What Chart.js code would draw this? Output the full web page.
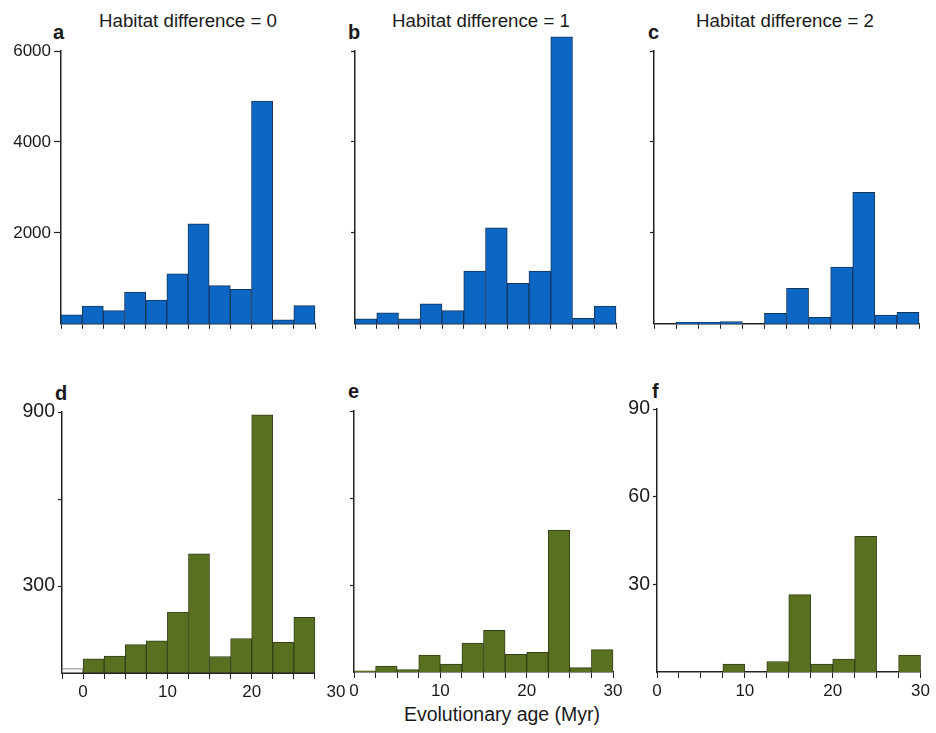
<!DOCTYPE html>
<html lang="en">
<head>
<meta charset="UTF-8">
<title>Evolutionary age by habitat difference</title>
<script src="https://cdn.jsdelivr.net/npm/chart.js"></script>
<style>
  html, body { margin: 0; padding: 0; background: #fff; overflow: hidden; }
  #figure {
    position: relative;
    width: 936px;
    height: 733px;
    font-family: 'Liberation Sans', Arial, sans-serif;
    color: #1a1a1a;
  }
  #figure canvas { position: absolute; }
  .label { position: absolute; white-space: nowrap; font-size: 18.7px; line-height: 18px; }
  .centered { transform: translateX(-50%); }
  .letter { font-weight: bold; font-size: 20px; line-height: 20px; }
  .axis-title { font-size: 19.5px; }
</style>
</head>
<body>
<div id="figure">
  <div class="label centered" style="left:188px; top:12px;">Habitat difference = 0</div>
  <div class="label centered" style="left:481px; top:12px;">Habitat difference = 1</div>
  <div class="label centered" style="left:785px; top:12px;">Habitat difference = 2</div>
  <div class="label letter" style="left:53px; top:22px;">a</div>
  <div class="label letter" style="left:348px; top:22px;">b</div>
  <div class="label letter" style="left:648px; top:22px;">c</div>
  <div class="label letter" style="left:55px; top:383px;">d</div>
  <div class="label letter" style="left:348px; top:381px;">e</div>
  <div class="label letter" style="left:652px; top:381px;">f</div>
  <div class="label centered axis-title" style="left:502px; top:705px;">Evolutionary age (Myr)</div>
</div>

<script>
// Bin starts (Myr); every bin is 2.5 Myr wide
const binWidth = 2.5;
const binStartsLeft = [-2.5, 0, 2.5, 5, 7.5, 10, 12.5, 15, 17.5, 20, 22.5, 25];
const binStarts = [0, 2.5, 5, 7.5, 10, 12.5, 15, 17.5, 20, 22.5, 25, 27.5];

// Counts per bin
const countsA = [200, 390, 290, 700, 520, 1100, 2200, 840, 760, 4900, 90, 400];
const countsB = [110, 240, 110, 440, 290, 1160, 2110, 890, 1160, 6310, 120, 390];
const countsC = [0, 30, 30, 50, 0, 230, 780, 140, 1250, 2890, 190, 250];
const countsD = [15, 49, 58, 98, 111, 210, 411, 57, 119, 890, 106, 192];
const countsE = [4, 20, 8, 58, 27, 100, 144, 61, 68, 489, 15, 77];
const countsF = [0, 0, 0, 2.7, 0, 3.6, 26.5, 2.7, 4.4, 46.4, 0, 5.8];

// Tick values
const topYTicks = [2000, 4000, 6000];
const bottomYTicks = [300, 600, 900];
const smallYTicks = [30, 60, 90];
const xLabelValues = [0, 10, 20, 30];

const blue = '#0b66c4';
const blueEdge = '#17365c';
const green = '#587020';
const greenEdge = '#34401a';
const axisColor = '#222';
const fontFamily = "'Liberation Sans', Arial, sans-serif";

// d starts with an outlined, unfilled bin
const fillD = countsD.map((v, i) => i === 0 ? '#f6f6f6' : green);
const edgeD = countsD.map((v, i) => i === 0 ? '#7a7a7a' : greenEdge);

const panels = [
  { starts: binStartsLeft, counts: countsA, fill: blue, edge: blueEdge,
    area: { left: 61, right: 315, top: 51, bottom: 325 }, xMin: -2.5, xMax: 27.5,
    yMax: 6000, yTicks: topYTicks, yLabels: topYTicks, xLabels: false, yTickLen: 7, yFont: 17 },
  { starts: binStarts, counts: countsB, fill: blue, edge: blueEdge,
    area: { left: 355, right: 616, top: 51, bottom: 325 }, xMin: 0, xMax: 30,
    yMax: 6000, yTicks: topYTicks, yLabels: [], xLabels: false },
  { starts: binStarts, counts: countsC, fill: blue, edge: blueEdge,
    area: { left: 654, right: 919, top: 51, bottom: 325 }, xMin: 0, xMax: 30,
    yMax: 6000, yTicks: topYTicks, yLabels: [], xLabels: false, padRight: 14 },
  { starts: binStartsLeft, counts: countsD, fill: fillD, edge: edgeD,
    area: { left: 62, right: 336, top: 412, bottom: 673 }, xMin: -2.5, xMax: 30,
    yMax: 900, yTicks: bottomYTicks, yLabels: [300, 900], xLabels: true, yFont: 19.5 },
  { starts: binStarts, counts: countsE, fill: green, edge: greenEdge,
    area: { left: 354, right: 613, top: 411, bottom: 672 }, xMin: 0, xMax: 30,
    yMax: 900, yTicks: bottomYTicks, yLabels: [], xLabels: true },
  { starts: binStarts, counts: countsF, fill: green, edge: greenEdge,
    area: { left: 657, right: 921, top: 409, bottom: 672 }, xMin: 0, xMax: 30,
    yMax: 90, yTicks: smallYTicks, yLabels: smallYTicks, xLabels: true, padRight: 12, yFont: 19.5 }
];

// x axis line that stops at the last bin edge (the scale may run further)
const baseLinePlugin = {
  id: 'baseLine',
  afterDatasetsDraw(chart, args, opts) {
    if (opts.to === undefined) return;
    const xs = chart.scales.x;
    const y = Math.round(chart.chartArea.bottom) + 0.25;
    const c = chart.ctx;
    c.save();
    c.strokeStyle = axisColor;
    c.lineWidth = 1.5;
    c.beginPath();
    c.moveTo(xs.getPixelForValue(xs.min), y);
    c.lineTo(xs.getPixelForValue(opts.to), y);
    c.stroke();
    c.restore();
  }
};

function makePanel(p) {
  const padTop = 20;
  const padRight = p.padRight || 20;
  const yW = 58;
  const xH = p.xLabels ? 40 : 12;
  const canvas = document.createElement('canvas');
  canvas.width = (p.area.right - p.area.left) + yW + padRight;
  canvas.height = (p.area.bottom - p.area.top) + padTop + xH;
  canvas.style.left = (p.area.left - yW) + 'px';
  canvas.style.top = (p.area.top - padTop) + 'px';
  document.getElementById('figure').appendChild(canvas);

  const lastEdge = p.starts[p.starts.length - 1] + binWidth;
  const edges = p.starts.concat([lastEdge]);
  if (p.xMax > lastEdge) edges.push(p.xMax);
  const extended = p.xMax > lastEdge;

  return new Chart(canvas, {
    type: 'bar',
    plugins: [baseLinePlugin],
    data: {
      datasets: [{
        data: p.starts.map((s, i) => ({ x: s + binWidth / 2, y: p.counts[i] })),
        backgroundColor: p.fill,
        borderColor: p.edge,
        borderWidth: 1,
        barPercentage: 1,
        categoryPercentage: 1,
        clip: false
      }]
    },
    options: {
      responsive: false,
      animation: false,
      events: [],
      layout: { padding: { top: padTop, right: padRight, left: 0, bottom: 0 } },
      plugins: {
        legend: { display: false },
        tooltip: { enabled: false },
        baseLine: { to: extended ? lastEdge : undefined }
      },
      scales: {
        x: {
          type: 'linear',
          min: p.xMin,
          max: p.xMax,
          offset: false,
          border: { display: !extended, color: axisColor, width: 1.5 },
          grid: {
            offset: false,
            drawOnChartArea: false,
            tickLength: p.xLabels ? 6 : 5,
            tickWidth: 1,
            tickColor: ctx => (ctx.tick && ctx.tick.value > lastEdge) ? 'rgba(0,0,0,0)' : axisColor
          },
          ticks: {
            font: { family: fontFamily, size: 17 },
            color: '#1a1a1a',
            padding: 3,
            autoSkip: false,
            maxRotation: 0,
            callback: v => (p.xLabels && xLabelValues.includes(v)) ? String(v) : ''
          },
          afterBuildTicks: scale => { scale.ticks = edges.map(v => ({ value: v })); },
          afterFit: scale => { scale.height = xH; }
        },
        y: {
          min: 0,
          max: p.yMax,
          border: { color: axisColor, width: 1.5 },
          grid: {
            drawOnChartArea: false,
            tickLength: p.yTickLen || 4,
            tickWidth: 1.2,
            tickColor: axisColor
          },
          ticks: {
            font: { family: fontFamily, size: p.yFont || 17 },
            color: '#1a1a1a',
            padding: 3,
            callback: v => p.yLabels.includes(v) ? String(v) : ''
          },
          afterBuildTicks: scale => { scale.ticks = p.yTicks.map(v => ({ value: v })); },
          afterFit: scale => { scale.width = yW; }
        }
      }
    }
  });
}

panels.forEach(makePanel);
</script>
</body>
</html>
